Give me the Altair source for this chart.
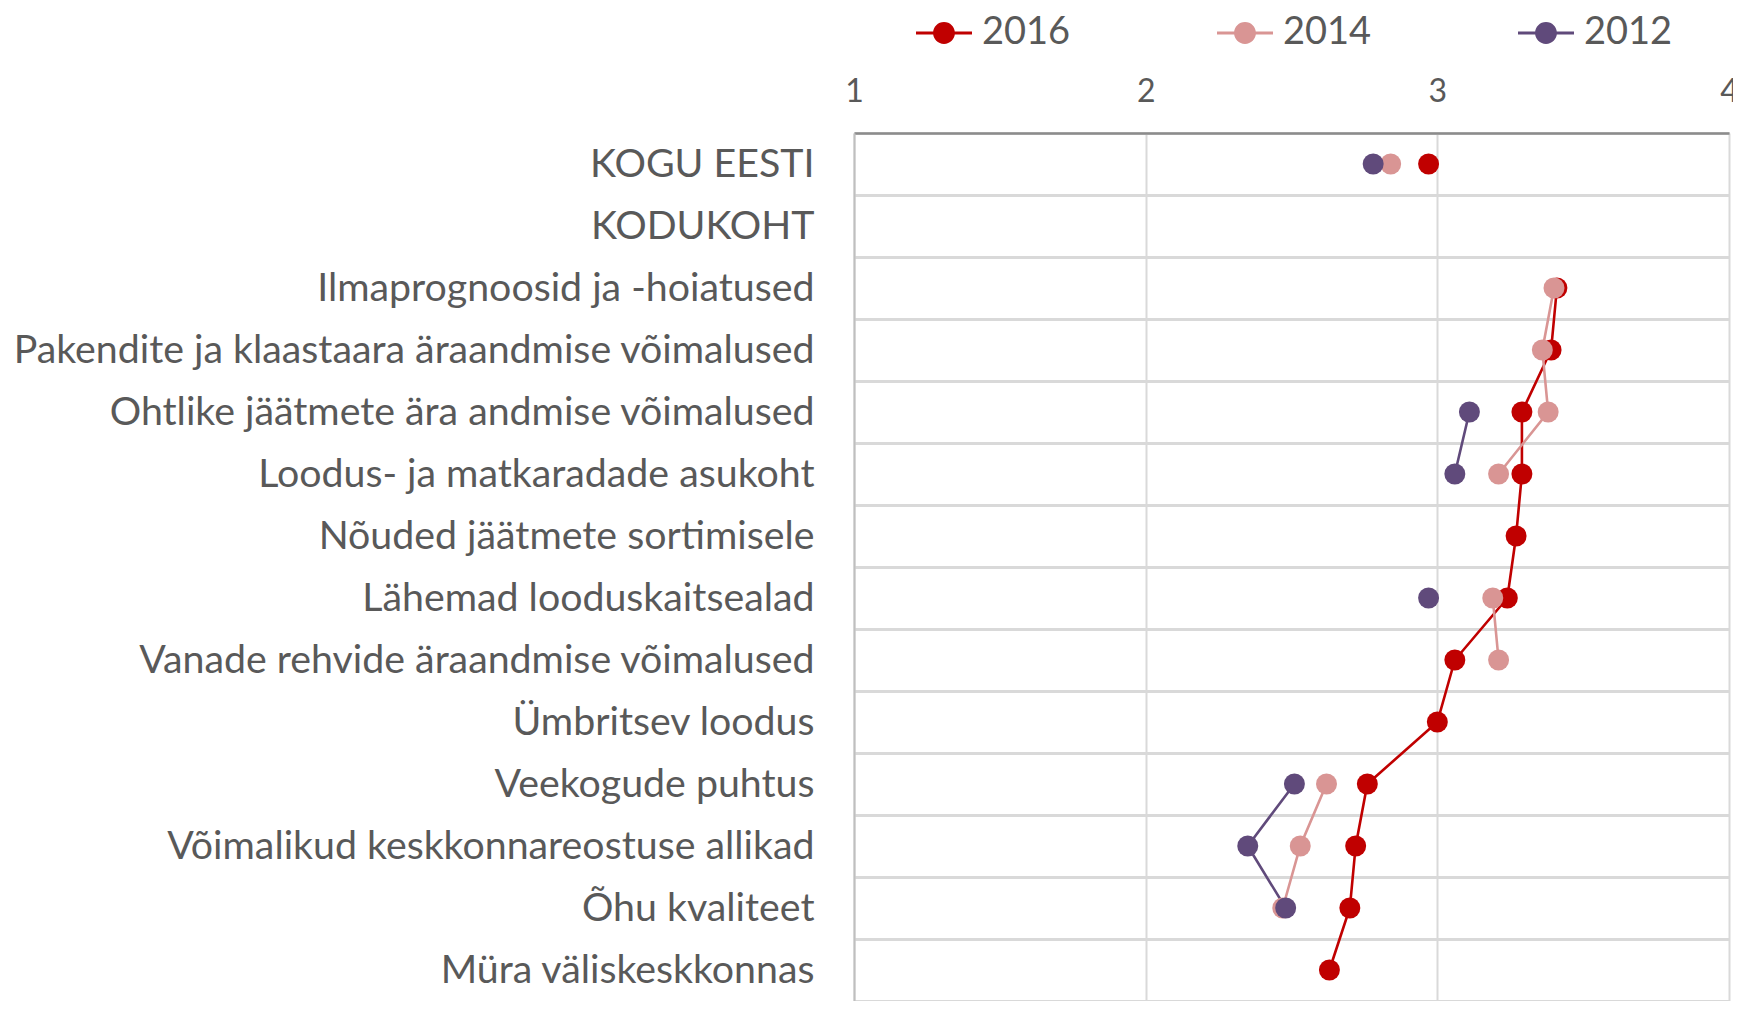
import altair as alt
import pandas as pd

categories = [
    "KOGU EESTI",
    "KODUKOHT",
    "Ilmaprognoosid ja -hoiatused",
    "Pakendite ja klaastaara äraandmise võimalused",
    "Ohtlike jäätmete ära andmise võimalused",
    "Loodus- ja matkaradade asukoht",
    "Nõuded jäätmete sortimisele",
    "Lähemad looduskaitsealad",
    "Vanade rehvide äraandmise võimalused",
    "Ümbritsev loodus",
    "Veekogude puhtus",
    "Võimalikud keskkonnareostuse allikad",
    "Õhu kvaliteet",
    "Müra väliskeskkonnas",
]
v2016 = [2.97, None, 3.41, 3.39, 3.29, 3.29, 3.27, 3.24, 3.06, 3.00, 2.76, 2.72, 2.70, 2.63]
v2014 = [2.84, None, 3.40, 3.36, 3.38, 3.21, None, 3.19, 3.21, None, 2.62, 2.53, 2.47, None]
v2012 = [2.78, None, None, None, 3.11, 3.06, None, 2.97, None, None, 2.51, 2.35, 2.48, None]

years = ["2016", "2014", "2012"]
colors = ["#C00000", "#D99594", "#604A7B"]
series = {"2016": v2016, "2014": v2014, "2012": v2012}

rows = []
for yr in years:
    for i, (c, v) in enumerate(zip(categories, series[yr])):
        rows.append({"year": yr, "cat": c, "idx": i, "val": v})
df = pd.DataFrame(rows)

text_color = "#595959"

x_enc = alt.X(
    "val:Q",
    scale=alt.Scale(domain=[1, 4], nice=False, zero=False),
    axis=alt.Axis(
        orient="top", values=[1, 2, 3, 4], title=None, format="d",
        labelFontSize=32, labelColor=text_color, labelFont="Lato",
        labelPadding=25, labelFlush=False, labelBound=False,
        ticks=False, tickSize=0,
        domainColor="#8C8C8C", domainWidth=2.5,
        gridColor="#D9D9D9", gridWidth=2,
    ),
)
y_enc = alt.Y(
    "cat:N",
    sort=categories,
    scale=alt.Scale(type="band", domain=categories, paddingInner=0, paddingOuter=0),
    axis=alt.Axis(
        title=None, labelFontSize=39.3, labelColor=text_color, labelFont="Lato",
        labelLimit=1200, labelPadding=40, ticks=False, tickSize=0,
        tickBand="extent", grid=True, gridColor="#D9D9D9", gridWidth=3,
        domainColor="#BFBFBF", domainWidth=2,
    ),
)
color_enc = alt.Color(
    "year:N",
    scale=alt.Scale(domain=years, range=colors),
    legend=alt.Legend(
        title=None, orient="none", direction="horizontal",
        legendX=62, legendY=-128,
        symbolType="M-1,-0.05L1,-0.05L1,0.05L-1,0.05Z M-0.39,0A0.39,0.39 0 1,1 0.39,0A0.39,0.39 0 1,1 -0.39,0Z",
        symbolSize=3136, symbolStrokeWidth=0, symbolOpacity=1,
        labelFontSize=38, labelColor=text_color, labelFont="Lato",
        labelOffset=10, columnPadding=146, padding=0,
    ),
)

base = alt.Chart(df)
lines = base.mark_line(strokeWidth=2.6, invalid="break-paths-show-domains").encode(
    x=x_enc, y=y_enc, color=color_enc, order=alt.Order("idx:Q"), detail="year:N"
)
points = base.mark_point(filled=True, size=440, opacity=1).encode(
    x=x_enc, y=y_enc, color=color_enc
)

chart = (
    alt.layer(lines, points)
    .properties(
        width=875, height=868,
        autosize=alt.AutoSizeParams(type="none"),
        padding={"left": 846, "top": 125, "right": 4, "bottom": 0},
    )
    .configure_view(stroke=None)
    .configure(background="white")
)

chart.save("out.html", embed_options={"renderer": "svg", "actions": False})
